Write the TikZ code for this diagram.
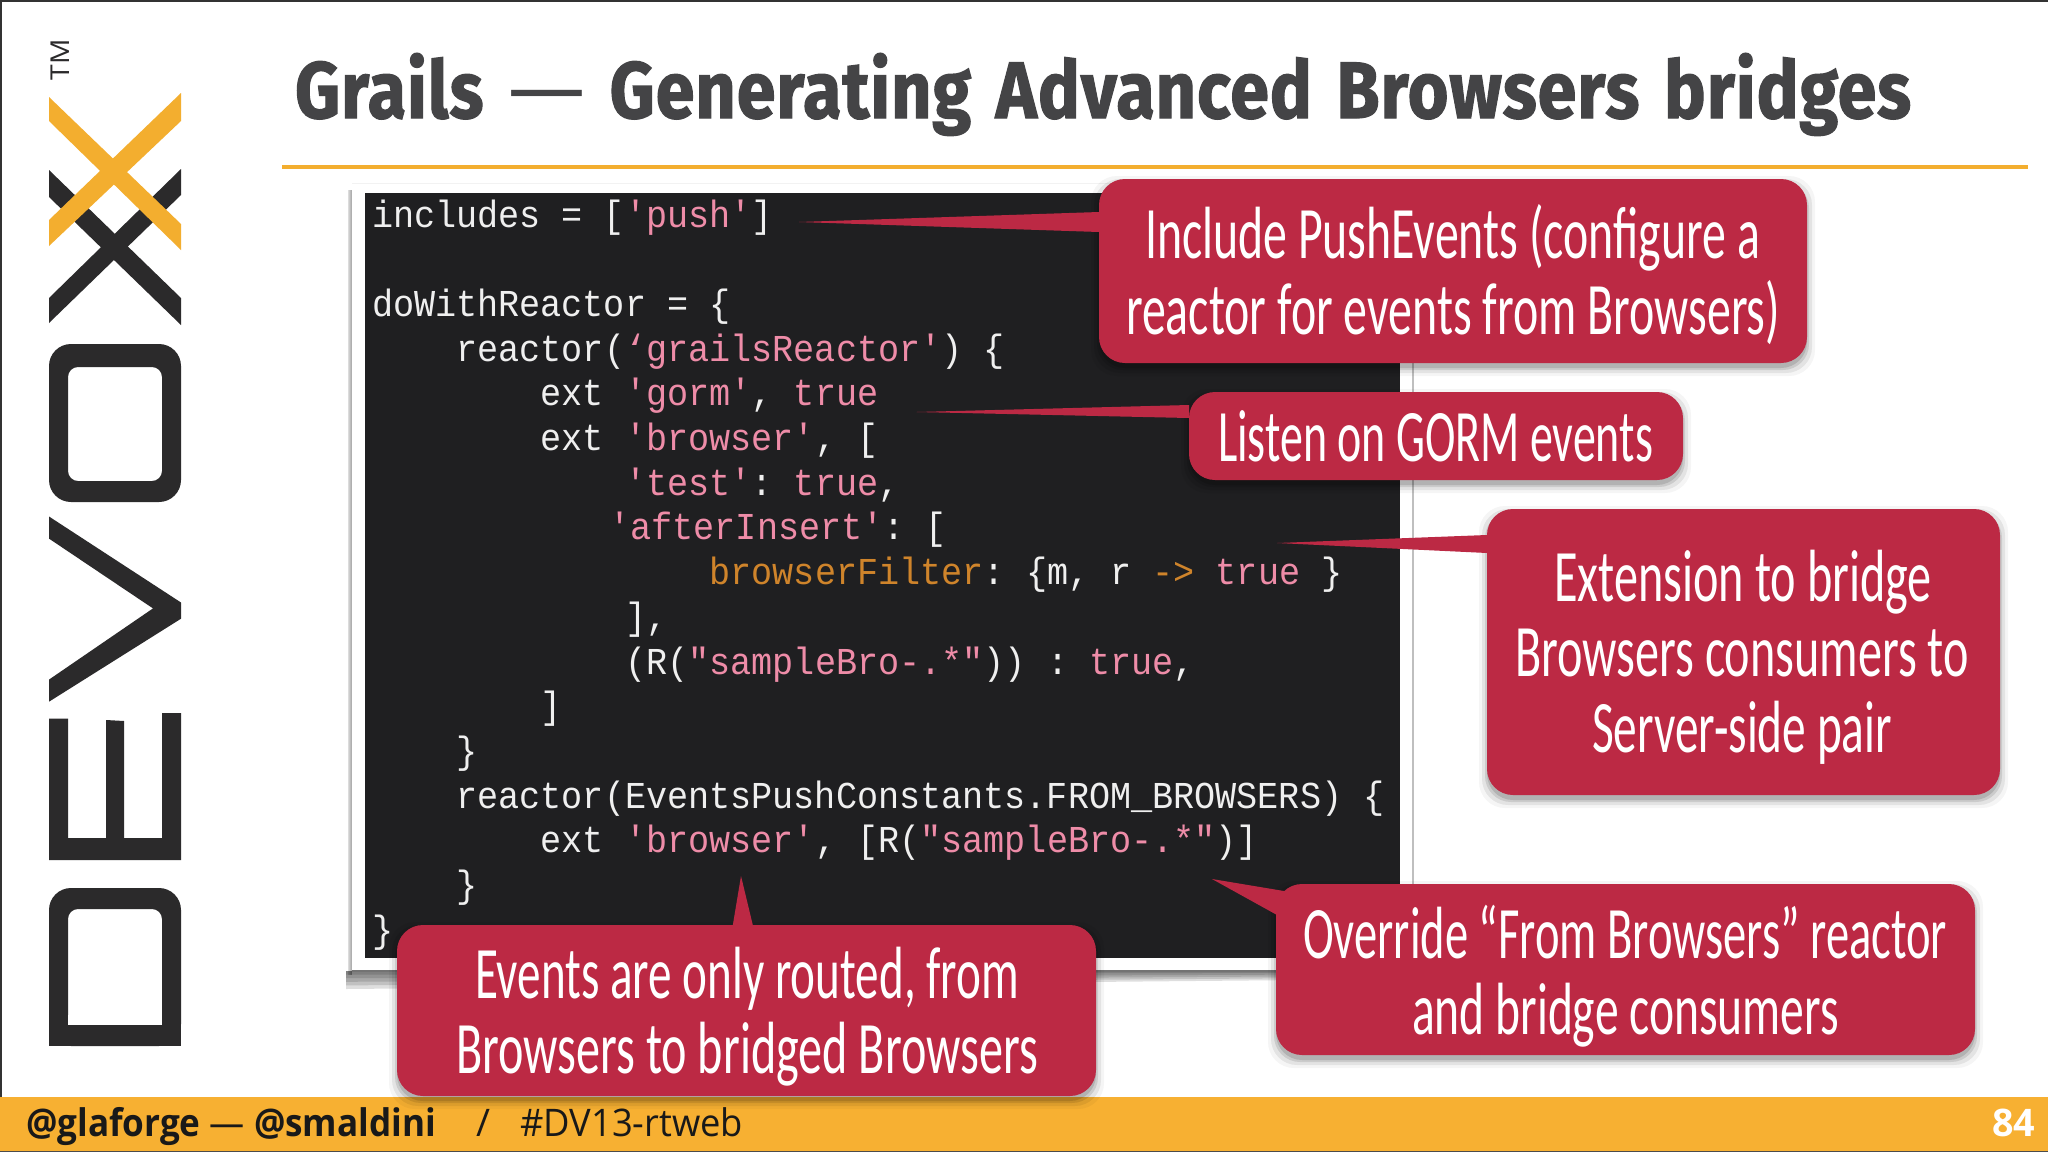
\documentclass[tikz,border=0pt]{standalone}
\usepackage{fontspec}
\usepackage{graphicx}
\setmainfont{Carlito}
\newfontfamily\codefont[FakeStretch=0.925]{Liberation Mono}
\newfontfamily\titlefont[LetterSpace=1.5,WordSpace=1.4,FakeBold=1.6]{Fira Sans}
\newfontfamily\titledash{Fira Sans}
\newfontfamily\footfont{Open Sans}
\definecolor{calloutred}{HTML}{BC2944}
\definecolor{barorange}{HTML}{F7B032}
\definecolor{logodark}{HTML}{2B2A2B}
\definecolor{logoorange}{HTML}{F3AE2F}
\definecolor{panel}{HTML}{1F1F21}
\definecolor{codewhite}{HTML}{EFEFEF}
\definecolor{codepink}{HTML}{EE8CA8}
\definecolor{codeorange}{HTML}{CF842B}
\definecolor{titlegray}{HTML}{444446}
\newcommand{\cstr}[1]{\textcolor{codepink}{#1}}
\newcommand{\corg}[1]{\textcolor{codeorange}{#1}}
\frenchspacing
\tikzset{
  codeline/.style={anchor=base west,inner sep=0pt,outer sep=0pt,text=codewhite,font=\codefont\fontsize{38}{38}\selectfont},
  fitline/.style={anchor=base west,inner sep=0pt,outer sep=0pt},
  calloutbody/.style={fill=calloutred,rounded corners=26pt,inner sep=0pt,outer sep=0pt,anchor=north west},
}
% name x1 y1 x2 y2 : callout body with soft shadow
\newcommand{\calloutbox}[5]{%
  \foreach \grow/\op in {8/0.04,5/0.07,2/0.10,0/0.12}{%
    \fill[black,opacity=\op,rounded corners=26pt]
      ({#2-\grow},{#3+5-\grow}) rectangle ({#4+\grow},{#5+5+\grow});
  }%
  \node[calloutbody,minimum width={#4-#2},minimum height={#5-#3}] (#1) at (#2,#3) {};
}
% name x1 x2 baseline text
\newcommand{\wl}[5]{%
  \node[fitline,text=white] (#1) at (#2,{#4+1}) {\resizebox{\dimexpr#3pt-#2pt\relax}{\height}{\fontsize{74}{74}\selectfont #5}};
}
\newcommand{\cl}[4]{%
  \node[codeline] (code#1) at ({372+21.1*#2},{227+44.7*#3}) {#4};
}
\begin{document}
\begin{tikzpicture}[x=1pt,y=-1pt]
\useasboundingbox (0,0) rectangle (2048,1152);
\fill[white] (0,0) rectangle (2048,1152);
% slide edge
\fill[black!80] (0,0) rectangle (2048,1.5);
\fill[black!80] (0,0) rectangle (1.5,1152);
% title
\node[fitline,text=titlegray] (title) at (295,118)
  {\resizebox{1616pt}{\height}{\titlefont\bfseries\fontsize{80}{80}\selectfont Grails {\titledash\mdseries\resizebox{88pt}{\height}{—}} Generating Advanced Browsers bridges}};
\fill[logoorange] (282,164.5) rectangle (2028,168.5);
% logo
\node[inner sep=0pt,rotate=90,text=logodark,font=\footfont\fontsize{26}{26}\selectfont] (tm) at (60,60) {\resizebox{41pt}{\height}{TM}};
\fill[logodark] (49,170) -- (181,298) -- (181,325) -- (49,197) -- cycle;
\fill[logodark] (49,298) -- (181,169) -- (181,195) -- (49,323) -- cycle;
\fill[logoorange] (49,97) -- (181,224) -- (181,250) -- (49,121) -- cycle;
\fill[logoorange] (49,220) -- (181,93) -- (181,121) -- (49,246) -- cycle;
\fill[logodark,even odd rule]
  [rounded corners=22pt] (49,344) rectangle (181,502)
  [rounded corners=10pt] (68,367) rectangle (162,481);
\fill[logodark] (49,516.5) -- (181,602.5) -- (181,618.7) -- (49,701.7) -- (49,679.6) -- (153,608.4) -- (49,538.6) -- cycle;
\fill[logodark] (49,860) -- (181,860) -- (181,713) -- (162,713) -- (162,838) -- (124,838) -- (124,721) -- (106,720) -- (106,838) -- (68,838) -- (68,718.6) -- (49,718.6) -- cycle;
\fill[logodark,even odd rule]
  [rounded corners=22pt] (49,1046) -- (181,1046) -- (181,888) -- (49,888) -- cycle
  [rounded corners=10pt] (68,1025) -- (162,1025) -- (162,909) -- (68,909) -- cycle;
\fill[logodark] (49,1046) rectangle (75,1020);
\fill[logodark] (181,1046) rectangle (155,1020);
\fill[white] (68,1025) rectangle (78,1015);
\fill[white] (162,1025) rectangle (152,1015);
% code panel frame and shadow
\foreach \k in {1,2,3,4,5}{
  \fill[black,opacity=0.13] (346,971) -- (1300,971) -- ({1300},{971+1.8*\k}) -- (346,{971+3.6*\k}) -- cycle;
  \fill[black,opacity=0.07] ({352-0.9*\k},190) rectangle (352,975);
}
\fill[black!25] (1411,186) rectangle (1414,972);
\fill[black!55] (352,970) rectangle (1412,972);
\fill[white] (352,183) rectangle (1412,970);
\fill[black!5] (352,183) rectangle (1412,184);
\fill[panel] (364.5,193) rectangle (1400,958);
% code
\cl{0}{0}{0}{includes = [\cstr{'push'}]}
\cl{1}{0}{2}{doWithReactor = \{}
\cl{2}{4}{3}{reactor(\cstr{‘grailsReactor'}) \{}
\cl{3}{8}{4}{ext \cstr{'gorm'}, \cstr{true}}
\cl{4}{8}{5}{ext \cstr{'browser'}, [}
\cl{5}{12}{6}{\cstr{'test'}: \cstr{true},}
\cl{6}{11.25}{7}{\cstr{'afterInsert'}: [}
\cl{7}{16}{8}{\corg{browserFilter}: \{m, r \corg{->} \cstr{true} \}}
\cl{8}{12}{9}{],}
\cl{9}{12}{10}{(R(\cstr{"sampleBro-.*"})) : \cstr{true},}
\cl{10}{8}{11}{]}
\cl{11}{4}{12}{\}}
\cl{12}{4}{13}{reactor(EventsPushConstants.FROM\_BROWSERS) \{}
\cl{13}{8}{14}{ext \cstr{'browser'}, [R(\cstr{"sampleBro-.*"})]}
\cl{14}{4}{15}{\}}
\cl{15}{0}{16}{\}}
% footer
\fill[barorange] (0,1097) rectangle (2048,1152);
\fill[black!70] (0,1150.5) rectangle (2048,1152);
\node[fitline,text=black!90] (ftA) at (26,1136) {\resizebox{410pt}{\height}{\footfont\bfseries\fontsize{38}{38}\selectfont @glaforge {\mdseries —} @smaldini}};
\node[fitline,text=black!90] (ftB) at (476,1136) {\resizebox{14pt}{\height}{\footfont\fontsize{38}{38}\selectfont /}};
\node[fitline,text=black!90] (ftC) at (520,1136) {\resizebox{223pt}{\height}{\footfont\fontsize{38}{38}\selectfont \#DV13-rtweb}};
\node[fitline,text=white] (ftD) at (1992,1136) {\resizebox{43pt}{\height}{\footfont\bfseries\fontsize{38}{38}\selectfont 84}};
% callouts
\calloutbox{c1}{1099}{179}{1807}{363}
\coordinate (t1) at (799,222);
\fill[calloutred] (t1) -- (c1.north west |- 0,212) -- (c1.north west |- 0,232) -- cycle;
\wl{c1a}{1145}{1760}{257}{Include PushEvents (configure a}
\wl{c1b}{1126}{1780}{333}{reactor for events from Browsers)}
\calloutbox{c2}{1189}{392}{1683}{480}
\coordinate (t2) at (916.5,412);
\fill[calloutred] (t2) -- (c2.north west |- 0,405) -- (c2.north west |- 0,418) -- cycle;
\wl{c2a}{1218}{1653}{460}{Listen on GORM events}
\calloutbox{c3}{1487}{509}{2000}{795}
\coordinate (t3) at (1277,543);
\fill[calloutred] (t3) -- (c3.north west |- 0,535) -- (c3.north west |- 0,553) -- cycle;
\wl{c3a}{1554}{1932}{600}{Extension to bridge}
\wl{c3b}{1515}{1969}{675}{Browsers consumers to}
\wl{c3c}{1592}{1892}{751}{Server-side pair}
\calloutbox{c4}{1276}{884}{1975}{1055}
\coordinate (t4) at (1212,879);
\fill[calloutred] (t4) -- (1290,892) -- (1277,915) -- cycle;
\wl{c4a}{1303}{1947}{957}{Override “From Browsers” reactor}
\wl{c4b}{1412}{1839}{1033}{and bridge consumers}
\calloutbox{c5}{397}{925}{1096}{1096}
\coordinate (t5) at (741,876);
\fill[calloutred] (t5) -- (732,930) -- (754,930) -- cycle;
\wl{c5a}{475}{1019}{997}{Events are only routed, from}
\wl{c5b}{456}{1038}{1072}{Browsers to bridged Browsers}
\end{tikzpicture}
\end{document}
